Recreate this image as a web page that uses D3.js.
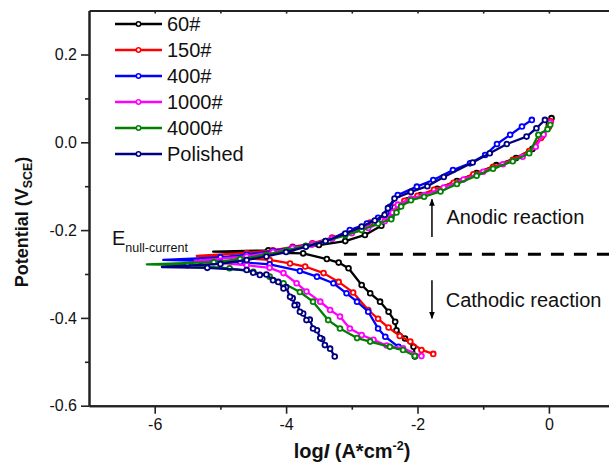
<!DOCTYPE html>
<html>
<head>
<meta charset="utf-8">
<script src="https://cdn.jsdelivr.net/npm/d3@7"></script>
<style>
  body { margin: 0; background: #fff; }
  svg { display: block; font-family: "Liberation Sans", Arial, sans-serif; }
</style>
</head>
<body>
<svg id="chart" width="609" height="468"></svg>
<script>
// series names and colours
const seriesNames = ["60#", "150#", "400#", "1000#", "4000#", "Polished"];
const seriesColors = ["#000000", "#ff0000", "#0000ff", "#ff00ff", "#008000", "#000080"];

// [log I, E], cathodic end -> E(null-current) -> anodic end
const curve60 = [[-2.04,-0.488],[-2.06,-0.466],[-2.19,-0.447],[-2.32,-0.428],[-2.34,-0.409],[-2.44,-0.386],[-2.57,-0.363],
  [-2.72,-0.344],[-2.85,-0.325],[-3.05,-0.287],[-3.2,-0.274],[-3.38,-0.266],[-3.74,-0.253],[-4.3,-0.251],[-5.11,-0.249],
  [-4.27,-0.246],[-3.9,-0.242],[-3.5,-0.234],[-3.1,-0.225],[-2.8,-0.211],[-2.55,-0.19],[-2.4,-0.172],[-2.3,-0.148],
  [-2.15,-0.132],[-1.95,-0.12],[-1.7,-0.106],[-1.4,-0.088],[-1.1,-0.07],[-0.8,-0.052],[-0.5,-0.036],[-0.25,-0.015],
  [-0.1,0.015],[0.0,0.04],[0.04,0.055]];
const curve150 = [[-1.76,-0.482],[-1.94,-0.473],[-2.11,-0.454],[-2.27,-0.441],[-2.44,-0.422],[-2.6,-0.402],[-2.75,-0.382],
  [-2.98,-0.342],[-3.2,-0.318],[-3.43,-0.298],[-3.71,-0.283],[-3.94,-0.276],[-4.25,-0.268],[-4.8,-0.262],[-5.36,-0.259],
  [-4.6,-0.252],[-4.2,-0.246],[-3.9,-0.238],[-3.6,-0.23],[-3.3,-0.217],[-3.0,-0.205],[-2.72,-0.183],[-2.55,-0.176],
  [-2.45,-0.165],[-2.35,-0.148],[-2.2,-0.133],[-2.0,-0.122],[-1.75,-0.108],[-1.45,-0.092],[-1.15,-0.073],[-0.85,-0.056],
  [-0.55,-0.04],[-0.3,-0.02],[-0.12,0.01],[0.0,0.035],[0.03,0.048]];
const curve400 = [[-2.29,-0.466],[-2.49,-0.443],[-2.6,-0.424],[-2.75,-0.386],[-2.92,-0.363],[-3.08,-0.344],[-3.28,-0.321],
  [-3.53,-0.306],[-3.79,-0.293],[-4.25,-0.278],[-4.7,-0.273],[-5.3,-0.27],[-5.87,-0.268],
  [-5.0,-0.262],[-4.6,-0.256],[-4.2,-0.248],[-3.9,-0.24],[-3.6,-0.232],[-3.3,-0.219],[-3.03,-0.2],[-2.77,-0.185],
  [-2.6,-0.172],[-2.47,-0.162],[-2.42,-0.147],[-2.3,-0.12],[-2.01,-0.101],[-1.76,-0.086],[-1.46,-0.063],[-1.2,-0.048],
  [-0.97,-0.029],[-0.79,-0.004],[-0.59,0.017],[-0.41,0.036],[-0.26,0.051]];
const curve1000 = [[-1.94,-0.487],[-2.22,-0.469],[-2.47,-0.463],[-2.67,-0.45],[-2.85,-0.439],[-3.03,-0.424],[-3.18,-0.397],
  [-3.33,-0.382],[-3.48,-0.363],[-3.69,-0.34],[-3.84,-0.321],[-4.04,-0.298],[-4.25,-0.286],[-4.6,-0.28],[-5.39,-0.27],
  [-4.6,-0.26],[-4.2,-0.25],[-3.9,-0.241],[-3.6,-0.232],[-3.3,-0.219],[-3.0,-0.207],[-2.75,-0.195],[-2.5,-0.18],
  [-2.38,-0.16],[-2.3,-0.142],[-2.1,-0.128],[-1.9,-0.12],[-1.6,-0.103],[-1.3,-0.085],[-1.0,-0.067],[-0.7,-0.05],
  [-0.4,-0.033],[-0.2,-0.01],[-0.08,0.018],[0.02,0.045]];
const curve4000 = [[-2.04,-0.487],[-2.22,-0.473],[-2.42,-0.466],[-2.72,-0.454],[-2.92,-0.446],[-3.18,-0.424],[-3.36,-0.405],
  [-3.59,-0.363],[-3.79,-0.341],[-4.04,-0.321],[-4.25,-0.306],[-4.5,-0.295],[-4.86,-0.287],[-5.5,-0.28],[-6.12,-0.278],
  [-5.1,-0.273],[-4.7,-0.266],[-4.3,-0.256],[-4.0,-0.246],[-3.7,-0.236],[-3.4,-0.225],[-3.1,-0.212],[-2.85,-0.2],
  [-2.6,-0.185],[-2.4,-0.175],[-2.32,-0.16],[-2.25,-0.146],[-2.1,-0.132],[-1.9,-0.124],[-1.65,-0.112],[-1.4,-0.095],
  [-1.1,-0.076],[-0.85,-0.06],[-0.55,-0.043],[-0.3,-0.025],[-0.16,0.017],[-0.02,0.03],[0.02,0.04]];
const curvePolished = [[-3.26,-0.488],[-3.33,-0.47],[-3.41,-0.462],[-3.45,-0.448],[-3.48,-0.446],[-3.53,-0.428],
  [-3.59,-0.424],[-3.64,-0.404],[-3.69,-0.405],[-3.74,-0.39],[-3.79,-0.386],[-3.83,-0.37],[-3.87,-0.371],[-3.9,-0.355],
  [-3.94,-0.352],[-4.0,-0.33],[-4.04,-0.333],[-4.12,-0.318],[-4.2,-0.314],[-4.3,-0.301],[-4.4,-0.302],[-4.5,-0.297],
  [-4.6,-0.291],[-5.2,-0.286],[-5.89,-0.284],
  [-5.0,-0.277],[-4.6,-0.268],[-4.3,-0.26],[-4.0,-0.25],[-3.7,-0.238],[-3.4,-0.225],[-3.1,-0.208],[-2.85,-0.192],
  [-2.65,-0.178],[-2.5,-0.165],[-2.45,-0.15],[-2.35,-0.128],[-2.1,-0.113],[-1.85,-0.1],[-1.6,-0.079],[-1.16,-0.046],
  [-0.9,-0.025],[-0.64,-0.004],[-0.34,0.013],[-0.19,0.032],[-0.06,0.051]];
const curves = [curve60, curve150, curve400, curve1000, curve4000, curvePolished];

// axis ticks
const xMajor = [-6, -4, -2, 0];
const xMinor = [-5, -3, -1];
const xTop = [-6, -5, -4, -3, -2, -1, 0];
const yMajor = [-0.6, -0.4, -0.2, 0.0, 0.2];
const yMinor = [-0.5, -0.3, -0.1, 0.1];

// dashed null-current level
const nullCurrentE = -0.255;

const svg = d3.select("#chart");
const x = d3.scaleLinear().domain([-7, 1]).range([89, 614.6]);
const y = d3.scaleLinear().domain([-0.6, 0.3]).range([405.7, 10.6]);
const axisColor = "#222";

// axes
const styleAxis = g => {
  g.select(".domain").attr("stroke", axisColor).attr("stroke-width", 2);
  g.selectAll(".tick line").attr("stroke", axisColor).attr("stroke-width", 1.6);
  g.selectAll(".tick text").attr("fill", "#111").attr("font-size", 16)
    .attr("font-family", "Liberation Sans, Arial, sans-serif");
};
svg.append("g").attr("transform", "translate(0,405.7)")
  .call(d3.axisBottom(x).tickValues(xMajor).tickSize(8).tickSizeOuter(0).tickPadding(5).tickFormat(d => String(d)))
  .call(styleAxis);
svg.append("g").attr("transform", "translate(0,405.7)")
  .call(d3.axisBottom(x).tickValues(xMinor).tickSize(4).tickSizeOuter(0).tickFormat(""))
  .call(styleAxis);
svg.append("g").attr("transform", "translate(0,10.6)")
  .call(d3.axisBottom(x).tickValues(xTop).tickSize(3).tickSizeOuter(0).tickFormat(""))
  .call(styleAxis);
svg.append("g").attr("transform", "translate(89,0)")
  .call(d3.axisLeft(y).tickValues(yMajor).tickSize(8).tickSizeOuter(0).tickPadding(4).tickFormat(d => d.toFixed(1)))
  .call(styleAxis);
svg.append("g").attr("transform", "translate(89,0)")
  .call(d3.axisLeft(y).tickValues(yMinor).tickSize(4).tickSizeOuter(0).tickFormat(""))
  .call(styleAxis);

// curves
const line = d3.line().x(d => x(d[0])).y(d => y(d[1]));
curves.forEach((c, i) => {
  const g = svg.append("g");
  g.append("path").datum(c)
    .attr("d", line)
    .attr("fill", "none")
    .attr("stroke", seriesColors[i])
    .attr("stroke-width", 2.3)
    .attr("stroke-linejoin", "round");
  // tip point carries no symbol
  const tip = d3.minIndex(c, d => d[0]);
  g.selectAll("circle").data(c.filter((d, j) => j !== tip))
    .enter().append("circle")
    .attr("cx", d => x(d[0]))
    .attr("cy", d => y(d[1]))
    .attr("r", 2.4)
    .attr("fill", "#fff")
    .attr("stroke", seriesColors[i])
    .attr("stroke-width", 1.8);
});

// null-current level
svg.append("line")
  .attr("x1", x(-3.12)).attr("x2", x(1))
  .attr("y1", y(nullCurrentE)).attr("y2", y(nullCurrentE))
  .attr("stroke", "#000").attr("stroke-width", 3)
  .attr("stroke-dasharray", "13,10");

// arrows
svg.append("defs").append("marker")
  .attr("id", "head").attr("viewBox", "0 0 10 10")
  .attr("refX", 9).attr("refY", 5)
  .attr("markerWidth", 7).attr("markerHeight", 7)
  .attr("markerUnits", "userSpaceOnUse")
  .attr("orient", "auto")
  .append("path").attr("d", "M0,1L10,5L0,9Z").attr("fill", "#000");
const arrow = (x0, y0, y1) => svg.append("line")
  .attr("x1", x(x0)).attr("x2", x(x0))
  .attr("y1", y(y0)).attr("y2", y(y1))
  .attr("stroke", "#000").attr("stroke-width", 1.5)
  .attr("marker-end", "url(#head)");
arrow(-1.78, -0.216, -0.13);
arrow(-1.78, -0.314, -0.401);

svg.append("text").attr("x", x(-1.56)).attr("y", y(-0.187))
  .attr("font-size", 20).attr("fill", "#111").text("Anodic reaction");
svg.append("text").attr("x", x(-1.57)).attr("y", y(-0.376))
  .attr("font-size", 20).attr("fill", "#111").text("Cathodic reaction");

const eLabel = svg.append("text").attr("x", x(-6.65)).attr("y", y(-0.234))
  .attr("font-size", 20).attr("fill", "#111");
eLabel.append("tspan").text("E");
eLabel.append("tspan").attr("font-size", 12.5).attr("dy", 7).text("null-current");

// legend
const legend = svg.append("g");
seriesNames.forEach((name, i) => {
  const yy = 24 + i * 26;
  legend.append("line").attr("x1", 115).attr("x2", 162).attr("y1", yy).attr("y2", yy)
    .attr("stroke", seriesColors[i]).attr("stroke-width", 2.5);
  legend.append("circle").attr("cx", 138.5).attr("cy", yy).attr("r", 2.2)
    .attr("fill", "#fff").attr("stroke", seriesColors[i]).attr("stroke-width", 1.5);
  legend.append("text").attr("x", 167).attr("y", yy).attr("dy", "0.35em")
    .attr("font-size", 20).attr("fill", "#111").text(name);
});

// axis titles
const yTitle = svg.append("text")
  .attr("transform", "translate(28,222) rotate(-90)")
  .attr("text-anchor", "middle")
  .attr("font-size", 18).attr("font-weight", "bold").attr("fill", "#111");
yTitle.append("tspan").text("Potential (V");
yTitle.append("tspan").attr("font-size", 12.5).attr("dy", 4).text("SCE");
yTitle.append("tspan").attr("dy", -4).text(")");

const xTitle = svg.append("text")
  .attr("x", 352).attr("y", 458)
  .attr("text-anchor", "middle")
  .attr("font-size", 20).attr("font-weight", "bold").attr("fill", "#111");
xTitle.append("tspan").text("log");
xTitle.append("tspan").attr("font-style", "italic").text("I ");
xTitle.append("tspan").text("(A*cm");
xTitle.append("tspan").attr("font-size", 12.5).attr("dy", -8).text("-2");
xTitle.append("tspan").attr("dy", 8).text(")");
</script>
</body>
</html>
